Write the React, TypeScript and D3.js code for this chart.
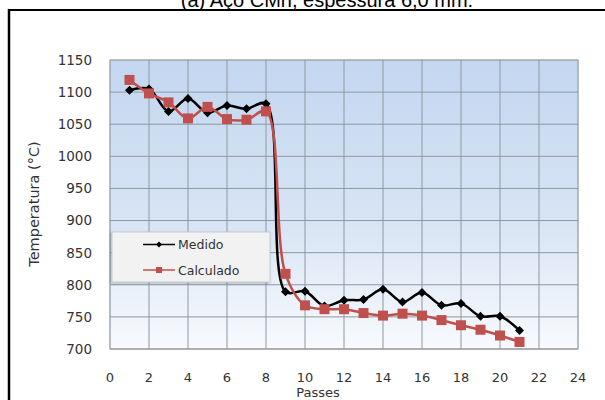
import React from "react";
import * as d3 from "d3";

const passes = [1, 2, 3, 4, 5, 6, 7, 8, 9, 10, 11, 12, 13, 14, 15, 16, 17, 18, 19, 20, 21];
const medido = [1103, 1105, 1070, 1090, 1068, 1079, 1074, 1082, 789, 790, 767, 776, 777, 793, 773, 788, 768, 771, 751, 751, 729];
const calculado = [1119, 1098, 1084, 1059, 1077, 1058, 1057, 1070, 817, 768, 762, 762, 756, 752, 755, 752, 745, 737, 730, 721, 711];
const xTicks = [0, 2, 4, 6, 8, 10, 12, 14, 16, 18, 20, 22, 24];
const yTicks = [700, 750, 800, 850, 900, 950, 1000, 1050, 1100, 1150];
const seriesNames = ["Medido", "Calculado"];
const title = "(a)  Aço CMn, espessura 6,0 mm.";

export default function App() {
  const W = 605, H = 400;
  const x = d3.scaleLinear().domain([0, 24]).range([110, 578]);
  const y = d3.scaleLinear().domain([700, 1150]).range([349, 60]);
  const font = "'DejaVu Sans', Verdana, sans-serif";
  const line = d3
    .line<[number, number]>()
    .x((d) => x(d[0]))
    .y((d) => y(d[1]))
    .curve(d3.curveCatmullRom.alpha(0.5));
  const med: [number, number][] = passes.map((p, i) => [p, medido[i]]);
  const cal: [number, number][] = passes.map((p, i) => [p, calculado[i]]);
  const red = "#c0504d";
  const diamond = (cx: number, cy: number, r: number) =>
    `M${cx},${cy - r}L${cx + r},${cy}L${cx},${cy + r}L${cx - r},${cy}Z`;

  return (
    <svg width={W} height={H} style={{ position: "absolute", left: 0, top: 0 }}>
      <defs>
        <linearGradient id="bg" x1="0" y1="0" x2="0" y2="1">
          <stop offset="0" stopColor="#c3d7f0" />
          <stop offset="0.55" stopColor="#d7e4f4" />
          <stop offset="1" stopColor="#f8fafd" />
        </linearGradient>
        <filter id="sh" x="-10%" y="-10%" width="120%" height="130%">
          <feDropShadow dx="-1" dy="1" stdDeviation="1" floodColor="#000" floodOpacity="0.3" />
        </filter>
      </defs>
      <rect x={0} y={0} width={W} height={H} fill="#fff" />
      <text x={327} y={7} textAnchor="middle" fontFamily="'Liberation Sans', Arial, sans-serif" fontSize={20} fill="#000">
        {title}
      </text>
      <line x1={8} x2={W} y1={10} y2={10} stroke="#000" strokeWidth={2} />
      <line x1={9} x2={9} y1={9} y2={H} stroke="#000" strokeWidth={2.5} />

      <rect x={x(0)} y={y(1150)} width={x(24) - x(0)} height={y(700) - y(1150)} fill="url(#bg)" stroke="#c8c8c8" strokeWidth={1} />
      {xTicks.map((t) => (
        <line key={"gx" + t} x1={x(t)} x2={x(t)} y1={y(1150)} y2={y(700)} stroke="#8e98a3" strokeWidth={1} />
      ))}
      {yTicks.map((t) => (
        <line key={"gy" + t} x1={x(0)} x2={x(24)} y1={y(t)} y2={y(t)} stroke="#8e98a3" strokeWidth={1} />
      ))}
      <line x1={x(0)} x2={x(24)} y1={y(700)} y2={y(700)} stroke="#a0a0a0" strokeWidth={1.2} />

      {yTicks.map((t) => (
        <text key={"ty" + t} x={92} y={y(t)} dy="0.36em" textAnchor="end" fontFamily={font} fontSize={13.5} fill="#333">
          {t}
        </text>
      ))}
      {xTicks.map((t) => (
        <text key={"tx" + t} x={x(t)} y={381.5} textAnchor="middle" fontFamily={font} fontSize={13} fill="#333">
          {t}
        </text>
      ))}
      <text x={318} y={397} textAnchor="middle" fontFamily={font} fontSize={13} fill="#333">
        Passes
      </text>
      <text transform="translate(39,204) rotate(-90)" textAnchor="middle" fontFamily={font} fontSize={14.5} fill="#333">
        Temperatura (°C)
      </text>

      <path d={line(med) || ""} fill="none" stroke="#000" strokeWidth={2.5} />
      {med.map((d, i) => (
        <path key={"m" + i} d={diamond(x(d[0]), y(d[1]), 4.5)} fill="#000" />
      ))}
      <path d={line(cal) || ""} fill="none" stroke={red} strokeWidth={2.5} />
      {cal.map((d, i) => (
        <rect key={"c" + i} x={x(d[0]) - 5} y={y(d[1]) - 5} width={10} height={10} fill={red} />
      ))}

      <g>
        <rect x={112} y={232} width={158} height={50} fill="#f2f2f2" stroke="#c4ccd6" strokeWidth={1} filter="url(#sh)" />
        <line x1={143} x2={175} y1={244.5} y2={244.5} stroke="#000" strokeWidth={1.5} />
        <path d={diamond(159, 244.5, 3)} fill="#000" />
        <text x={178} y={244.5} dy="0.36em" fontFamily={font} fontSize={12.5} fill="#333">
          {seriesNames[0]}
        </text>
        <line x1={143} x2={175} y1={270} y2={270} stroke={red} strokeWidth={1.5} />
        <rect x={156} y={267} width={6} height={6} fill={red} />
        <text x={178} y={270} dy="0.36em" fontFamily={font} fontSize={12.5} fill="#333">
          {seriesNames[1]}
        </text>
      </g>
    </svg>
  );
}
